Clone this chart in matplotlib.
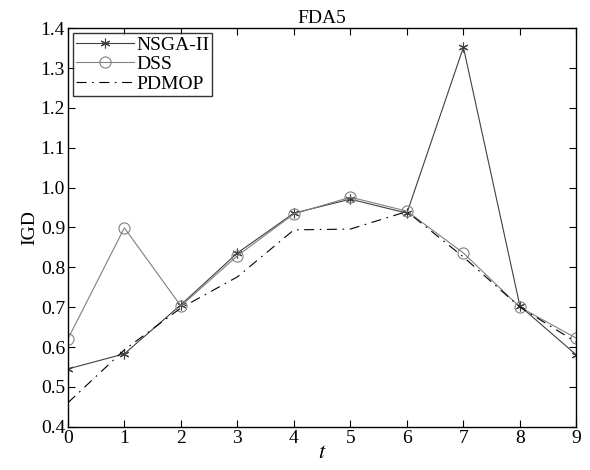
import numpy as np
import matplotlib.pyplot as plt

t = np.arange(10)
nsga = [0.545, 0.583, 0.706, 0.836, 0.936, 0.971, 0.936, 1.352, 0.703, 0.580]
dss = [0.620, 0.899, 0.703, 0.829, 0.934, 0.976, 0.941, 0.836, 0.700, 0.622]
pdmop = [0.460, 0.593, 0.698, 0.776, 0.894, 0.896, 0.940, 0.826, 0.700, 0.612]

plt.rcParams['font.family'] = ['Liberation Serif', 'DejaVu Serif']
plt.rcParams['mathtext.fontset'] = 'stix'

fig, ax = plt.subplots(figsize=(5.9, 4.7), dpi=100)
fig.subplots_adjust(left=0.115, right=0.977, top=0.94, bottom=0.092)

# asterisk marker like matlab '*'
ax.plot(t, nsga, color='#404040', lw=0.8, marker=(6, 2, 0), ms=7,
        mec='#404040', mew=0.8, label='NSGA-II')
ax.plot(t, dss, color='#808080', lw=0.8, marker='o', ms=8, mfc='none',
        mec='#808080', mew=0.8, label='DSS')
ax.plot(t, pdmop, color='black', lw=0.8, ls=(0, (9, 5, 1.5, 5)), label='PDMOP')

ax.set_xlim(0, 9)
ax.set_ylim(0.4, 1.4)
ax.set_xticks(t)
ax.set_yticks(np.arange(0.4, 1.41, 0.1))
ax.yaxis.set_major_formatter(plt.FuncFormatter(lambda v, p: '%.1f' % v))
ax.tick_params(direction='in', top=True, right=True, labelsize=14, length=5, pad=2)
for s in ax.spines.values():
    s.set_linewidth(1.0)

ax.set_title('FDA5', fontsize=14, pad=4)
ax.set_xlabel('$t$', fontsize=16, labelpad=-2)
ax.set_ylabel('IGD', fontsize=14, labelpad=2)

leg = ax.legend(loc='upper left', fontsize=14, fancybox=False, edgecolor='black',
                borderaxespad=0.25, handlelength=3.0, labelspacing=0.1,
                borderpad=0.15, handletextpad=0.1)
leg.get_frame().set_linewidth(1.0)

fig.savefig('out.png', dpi=100)
